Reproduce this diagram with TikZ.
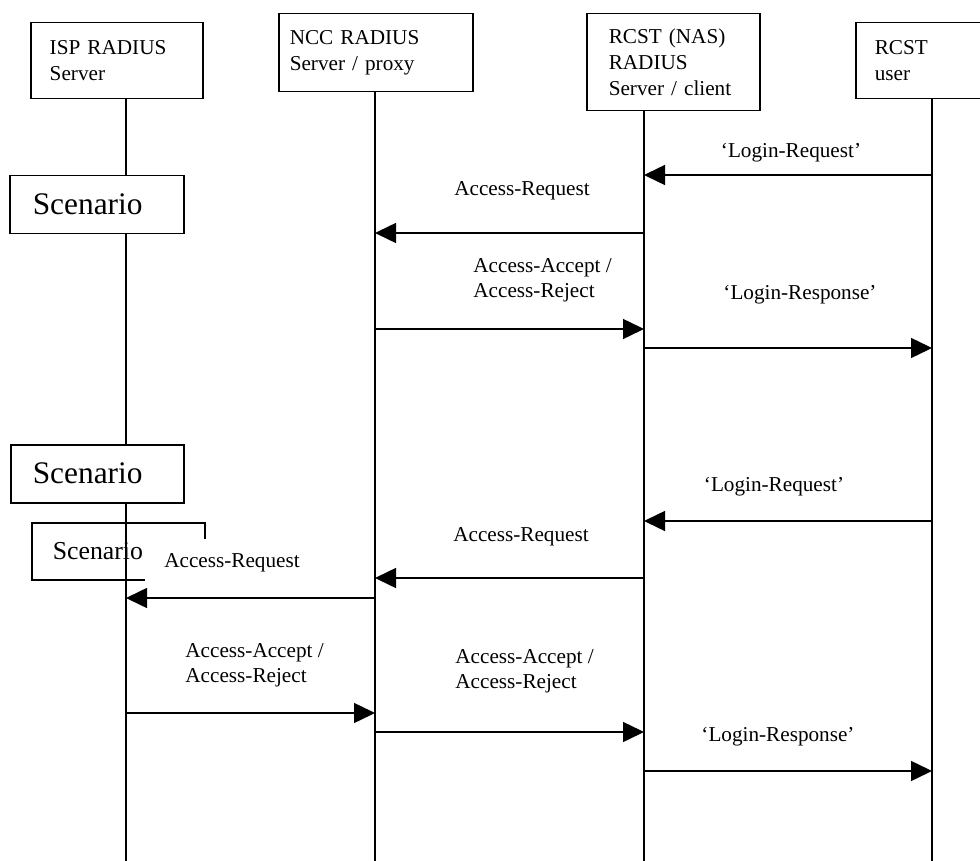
\documentclass[tikz,border=0pt]{standalone}
\usepackage{fontspec}
\setmainfont{Liberation Serif}
\usetikzlibrary{arrows.meta,positioning}
\tikzset{
  actor/.style={draw, line width=0.75pt, anchor=north west, align=left,
    inner ysep=0pt, font=\fontsize{10.6}{13}\selectfont},
  scen/.style={draw, line width=0.75pt, anchor=north west, align=left,
    inner ysep=0pt, minimum height=29pt, font=\fontsize{15.7}{18}\selectfont},
  lifeline/.style={line width=0.75pt},
  msg/.style={-{Triangle[length=10.5pt,width=10pt]}, line width=0.75pt},
  lbl/.style={inner sep=0pt, font=\fontsize{10.6}{12.5}\selectfont},
}
\begin{document}
\begin{tikzpicture}[x=0.5pt,y=-0.5pt]
  \clip (0,0) rectangle (980,861);
  % the four parties
  \node[actor, minimum width=86pt, minimum height=38pt, text width=67pt, inner xsep=9.5pt] (ispbox) at (30,22) {ISP RADIUS\\Server};
  \node[actor, minimum width=97pt, minimum height=39pt, text width=86pt, inner xsep=5.5pt] (nccbox) at (278,13) {NCC RADIUS\\Server / proxy};
  \node[actor, minimum width=86.5pt, minimum height=48.5pt, text width=64.5pt, inner xsep=11pt] (nasbox) at (586,13) {RCST (NAS)\\RADIUS\\Server / client};
  \node[actor, minimum width=75pt, minimum height=38pt, text width=56pt, inner xsep=9.5pt] (userbox) at (855,22) {RCST\\user};
  % lifelines
  \coordinate (isp) at (126,861);
  \coordinate (ncc) at (375,861);
  \coordinate (nas) at (644,861);
  \coordinate (user) at (932,861);
  \foreach \who in {isp,ncc,nas,user}
    \draw[lifeline] (\who box.south -| \who) -- (\who);
  % scenario boxes
  \node[scen, fill=white, minimum width=87pt, text width=64pt, inner xsep=11.5pt] (scen1) at (9,175) {Scenario};
  \node[scen, fill=white, minimum width=86.5pt, text width=64.5pt, inner xsep=11pt] (scen2) at (10,444) {Scenario};
  \node[scen, minimum width=86.5pt, minimum height=28.5pt, text width=65.5pt, inner xsep=10.5pt,
    font=\fontsize{12.9}{15}\selectfont] (scen3) at (31,522) {Scenario};
  % message labels
  \node[lbl] (lreq1) at (791,153) {`Login-Request'};
  \node[lbl] (areq1) at (522,191) {Access-Request};
  \node[lbl, anchor=west, align=left] (acc1) at (473,280) {Access-Accept /\\Access-Reject};
  \node[lbl] (lres1) at (800,295) {`Login-Response'};
  \node[lbl] (lreq2) at (774,487) {`Login-Request'};
  \node[lbl] (areq2) at (521,537) {Access-Request};
  \node[lbl, fill=white, inner xsep=9.5pt, inner ysep=7.25pt] (areq3) at (232,563) {Access-Request};
  \node[lbl, anchor=west, align=left] (acc2) at (185,665) {Access-Accept /\\Access-Reject};
  \node[lbl, anchor=west, align=left] (acc3) at (455,671) {Access-Accept /\\Access-Reject};
  \node[lbl] (lres2) at (778,737) {`Login-Response'};
  % messages
  \foreach \src/\dst/\y in {user/nas/175, nas/ncc/233, ncc/nas/329, nas/user/348,
                            user/nas/521, nas/ncc/578, ncc/isp/598, isp/ncc/713,
                            ncc/nas/732, nas/user/771}
    \draw[msg] (\src |- 0,\y) -- (\dst |- 0,\y);
\end{tikzpicture}
\end{document}
